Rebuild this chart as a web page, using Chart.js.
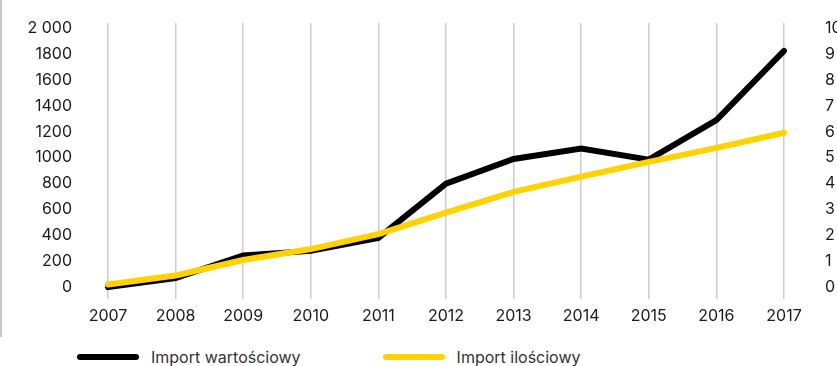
<!DOCTYPE html>
<html lang="pl">
<head>
<meta charset="utf-8">
<script src="https://cdn.jsdelivr.net/npm/chart.js@4.4.1/dist/chart.umd.min.js"></script>
<style>
  html, body { margin: 0; padding: 0; background: #fff; overflow: hidden; }
  body { width: 837px; height: 366px; position: relative; font-family: Inter, "Noto Sans", sans-serif; }
  .ramka { position: absolute; left: 0; top: 0; width: 2px; height: 337px; background: #c8c8c8; }
  .wykres { position: absolute; left: 0; top: 0; width: 860px; height: 334px; }
  .legenda { position: absolute; left: 77px; top: 347px; display: flex; gap: 82px; font-size: 16px; color: #333; }
  .legenda span { display: flex; align-items: center; white-space: nowrap; }
  .legenda i { display: inline-block; width: 62px; height: 6px; border-radius: 3px; margin-right: 12px; }
</style>
</head>
<body>
<div class="ramka"></div>
<div class="wykres"><canvas id="canva"></canvas></div>
<div class="legenda" id="legenda"></div>

<script>
const lata = ["2007", "2008", "2009", "2010", "2011", "2012", "2013", "2014", "2015", "2016", "2017"];
const importWartosciowy = [0, 70, 245, 280, 380, 800, 990, 1070, 985, 1290, 1825];
const importIlosciowy = [0.1, 0.45, 1.05, 1.47, 2.05, 2.88, 3.68, 4.27, 4.84, 5.38, 5.96];

const tickiLewe = [0, 200, 400, 600, 800, 1000, 1200, 1400, 1600, 1800, 2000];
const etykietyLewe = ["0", "200", "400", "600", "800", "1000", "1200", "1400", "1600", "1800", "2 000"];
const tickiPrawe = [0, 1, 2, 3, 4, 5, 6, 7, 8, 9, 10];
const etykietyPrawe = ["0", "1", "2", "3", "4", "5", "6", "7", "8", "9", "10"];

const kolorTekstu = "#1a1a1a";
const kolorSiatki = "#cccccc";
const czcionka = { family: "Inter, 'Noto Sans', sans-serif", size: 16 };

// stała szerokość osi i bez dodatkowego marginesu na etykiety
function ustawOs(szerokosc) {
  return (scale) => {
    scale.width = szerokosc;
    scale.paddingTop = 0;
    scale.paddingBottom = 0;
  };
}

let barras = new Chart(document.getElementById("canva").getContext("2d"), {
  type: "line",
  data: {
    labels: lata,
    datasets: [
      {
        label: "Import wartościowy",
        data: importWartosciowy,
        yAxisID: "y",
        borderColor: "#000000",
        backgroundColor: "#000000",
        borderWidth: 6,
        borderCapStyle: "round",
        pointRadius: 0,
        tension: 0,
        order: 1
      },
      {
        label: "Import ilościowy",
        data: importIlosciowy,
        yAxisID: "y2",
        borderColor: "#ffd300",
        backgroundColor: "#ffd300",
        borderWidth: 6,
        borderCapStyle: "round",
        pointRadius: 0,
        tension: 0,
        order: 0
      }
    ]
  },
  options: {
    responsive: true,
    maintainAspectRatio: false,
    animation: false,
    layout: { padding: { top: 23, left: 0, right: 0, bottom: 0 } },
    plugins: { legend: { display: false }, tooltip: { enabled: false } },
    scales: {
      x: {
        grid: { color: kolorSiatki, lineWidth: 1.5, drawTicks: false },
        border: { display: false },
        ticks: { color: kolorTekstu, font: czcionka, padding: 8, maxRotation: 0 }
      },
      y: {
        position: "left",
        min: -90,
        max: 2040,
        grid: { display: false, drawTicks: false },
        border: { display: false },
        afterBuildTicks: (scale) => { scale.ticks = tickiLewe.map((v) => ({ value: v })); },
        afterFit: ustawOs(108),
        ticks: { color: kolorTekstu, font: czcionka, padding: 36, callback: (v, i) => etykietyLewe[i] }
      },
      y2: {
        position: "right",
        min: -0.45,
        max: 10.2,
        grid: { display: false, drawTicks: false },
        border: { display: false },
        afterBuildTicks: (scale) => { scale.ticks = tickiPrawe.map((v) => ({ value: v })); },
        afterFit: ustawOs(76),
        ticks: { color: kolorTekstu, font: czcionka, padding: 41, callback: (v, i) => etykietyPrawe[i] }
      }
    }
  }
});

// legenda pod wykresem
const legenda = document.getElementById("legenda");
barras.data.datasets.forEach((ds) => {
  const poz = document.createElement("span");
  const kreska = document.createElement("i");
  kreska.style.background = ds.borderColor;
  poz.appendChild(kreska);
  poz.appendChild(document.createTextNode(ds.label));
  legenda.appendChild(poz);
});
</script>
</body>
</html>
